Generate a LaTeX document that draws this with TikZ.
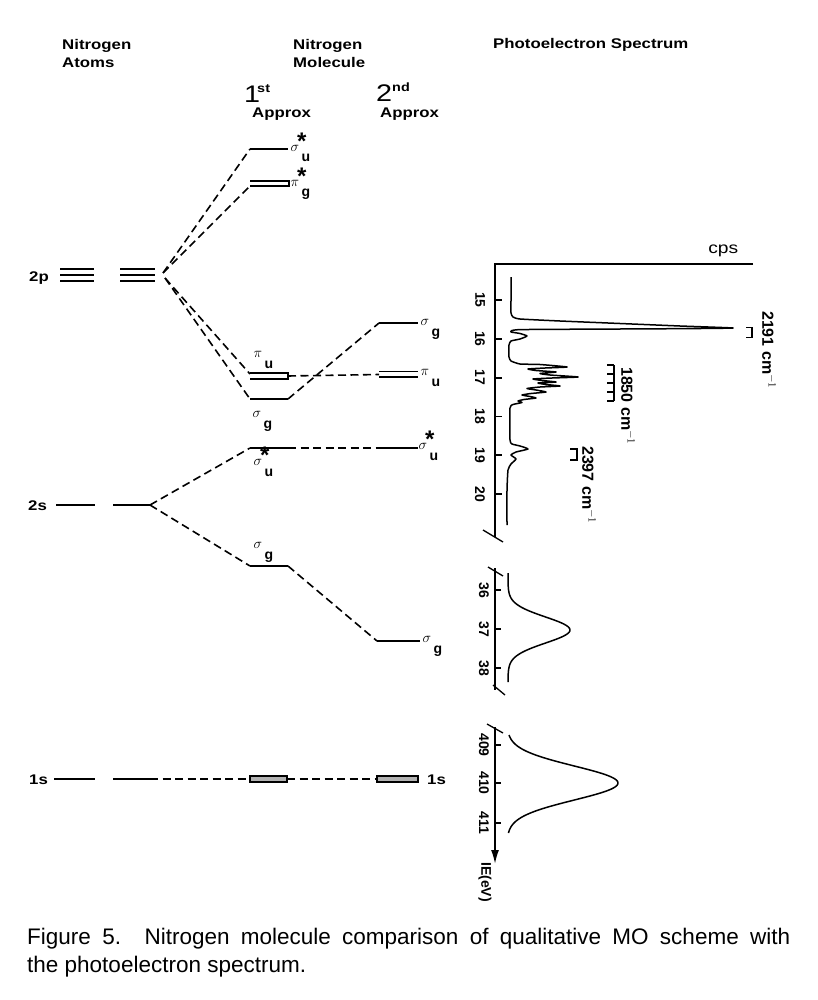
\documentclass[tikz,border=0pt]{standalone}
\usepackage{fontspec}
\setmainfont{Liberation Sans}
\usepackage{graphicx}
\usetikzlibrary{arrows.meta}

\tikzset{
  lev/.style={line width=2pt},
  trip/.style={line width=1.7pt},
  dbl/.style={line width=1.4pt},
  conn/.style={line width=1.6pt, dash pattern=on 8pt off 4.5pt},
  lab/.style={font=\fontsize{14}{14}\selectfont\bfseries, xscale=1.2, inner sep=0pt, anchor=base west},
  grk/.style={font=\fontsize{14}{14}\selectfont, inner sep=0pt},
  subl/.style={font=\fontsize{14}{14}\selectfont\bfseries, inner sep=0pt, anchor=base},
  ticklab/.style={font=\fontsize{14}{14}\selectfont\bfseries, inner sep=0pt, rotate=-90},
  annlab/.style={font=\fontsize{16}{16}\selectfont\bfseries, inner sep=0pt, rotate=-90},
  axisl/.style={line width=1.8pt},
  specline/.style={line width=1.5pt, line join=round},
  brkline/.style={line width=1.3pt},
  captext/.style={font=\fontsize{22.5}{22.5}\selectfont, inner sep=0pt, anchor=base west},
}

\newcommand{\starmark}{\makebox[0pt]{\raisebox{12.5pt}[0pt][0pt]{\fontsize{24}{24}\selectfont\bfseries *}}}
\newcommand{\orbl}[5]{%
  \node[grk] (#1g) at (#2,#3) {$#4$};
  \node[subl] (#1s) at (#2+11,#3+14) {#5};}
\newcommand{\orbls}[5]{%
  \node[grk] (#1g) at (#2,#3) {$#4$};
  \node[subl] (#1s) at (#2+11,#3+14) {\starmark#5};}

\begin{document}
\begin{tikzpicture}[x=1pt,y=-1pt]
\useasboundingbox (0,0) rectangle (818,1000);

% ---------- headings ----------
\node[lab] (hA1) at (62,50) {Nitrogen};
\node[lab] (hA2) at (62,68) {Atoms};
\node[lab] (hM1) at (293,50) {Nitrogen};
\node[lab] (hM2) at (293,68) {Molecule};
\node[lab] (hP) at (493,49) {Photoelectron Spectrum};
\node[lab, font=\fontsize{24}{24}\selectfont] (one) at (244,103) {1};
\node[lab, font=\fontsize{12}{12}\selectfont\bfseries] (onest) at (257,93) {st};
\node[lab] (ap1) at (252,118) {Approx};
\node[lab, font=\fontsize{24}{24}\selectfont] (two) at (376,102) {2};
\node[lab, font=\fontsize{12}{12}\selectfont\bfseries] (twond) at (392,92) {nd};
\node[lab] (ap2) at (380,118) {Approx};

% ---------- atom levels ----------
\node[lab] (l2p) at (29,281) {2p};
\node[lab] (l2s) at (28,510) {2s};
\node[lab] (l1s) at (29,784) {1s};
\foreach \yy in {269,275,281} {
  \draw[trip] (60,\yy) -- (94,\yy);
  \draw[trip] (120,\yy) -- (155,\yy);
}
\coordinate (p2) at (163,273);
\coordinate (p2b) at (165,278);
\draw[lev] (56,505) -- (95,505);
\draw[lev] (113,505) -- (150,505);
\coordinate (s2) at (150,505);
\draw[lev] (54,779) -- (95,779);
\draw[lev] (113,779) -- (150,779);
\coordinate (s1) at (150,779);

% ---------- 1st approximation ----------
\coordinate (suA) at (250,149);
\draw[lev] (suA) -- (288,149);
\coordinate (pgA) at (250,186);
\draw[dbl] (250,181) -- (289,181) -- (289,186) -- (pgA);
\coordinate (puA) at (250,374);
\coordinate (puB) at (288,376);
\draw[dbl] (250,373) -- (288,373) -- (288,379) -- (250,379);
\coordinate (sgA) at (250,399);
\coordinate (sgB) at (288,399);
\draw[lev] (sgA) -- (sgB);
\coordinate (ssA) at (250,448);
\coordinate (ssB) at (288,448);
\draw[lev] (ssA) -- (ssB);
\coordinate (gsA) at (250,566);
\coordinate (gsB) at (288,566);
\draw[lev] (gsA) -- (gsB);
\coordinate (oA) at (250,779);
\coordinate (oB) at (287,779);
\draw[line width=1.7pt, fill=gray!60] (250,776) rectangle (287,782);

% ---------- 2nd approximation ----------
\coordinate (sg2A) at (379,323);
\draw[lev] (sg2A) -- (418,323);
\coordinate (pu2A) at (379,374.5);
\draw[dbl] (379,371.5) -- (418,371.5);
\draw[dbl] (379,377) -- (418,377);
\coordinate (ss2A) at (378,448);
\draw[lev] (ss2A) -- (418,448);
\coordinate (gs2A) at (377,641);
\draw[lev] (gs2A) -- (420,641);
\coordinate (o2A) at (377,779);
\draw[line width=1.7pt, fill=gray!60] (377,776) rectangle (418,782);
\node[lab] (r1s) at (427,784) {1s};

% ---------- correlation lines ----------
\draw[conn] (p2) -- (suA);
\draw[conn] (p2) -- (pgA);
\draw[conn] (p2b) -- (puA);
\draw[conn] (p2b) -- (sgA);
\draw[conn] (sgB) -- (sg2A);
\draw[conn] (puB) -- (pu2A);
\draw[conn] (s2) -- (ssA);
\draw[conn] (s2) -- (gsA);
\draw[conn] (ssB) -- (ss2A);
\draw[conn] (gsB) -- (gs2A);
\draw[conn] (s1) -- (oA);
\draw[conn] (oB) -- (o2A);

% ---------- orbital labels ----------
\orbls{a}{295}{148}{\sigma}{u}
\orbls{b}{295}{183}{\pi}{g}
\orbl{c}{258}{354}{\pi}{u}
\orbl{d}{257}{414}{\sigma}{g}
\orbl{e}{425}{322}{\sigma}{g}
\orbl{f}{425}{372}{\pi}{u}
\orbls{h}{258}{462}{\sigma}{u}
\orbls{i}{423}{446}{\sigma}{u}
\orbl{j}{258}{545}{\sigma}{g}
\orbl{k}{427}{639}{\sigma}{g}

% ---------- spectrum: valence region ----------
\coordinate (a1t) at (495,264);
\coordinate (a1r) at (753,264);
\coordinate (a1b) at (495,537);
\draw[axisl] (a1r) -- (a1t) -- (a1b);
\draw[brkline] (483,530) -- (503,542);
\node[lab, font=\fontsize{16}{16}\selectfont] (cps) at (708,253) {cps};
\foreach \k/\lab in {0/15,1/16,2/17,3/18,4/19,5/20} {
  \draw[axisl] (495,300+38.8*\k) -- (502,300+38.8*\k);
  \node[ticklab] (t\lab) at (480,300+38.8*\k) {\lab};
}
\draw[specline] plot[smooth, tension=0.3] coordinates {
 (511,277) (511,300) (511,313) (513,317) (520,319) (560,321) (620,323.5) (680,326) (733,328)
 (690,328.6) (620,329) (560,329.3) (520,329.6) (512,330.5)
 (511,332) (520,333.5) (527,336) (520,339) (511,341) (509,345) (509,357) (511,361) (520,364)
 (540,364.5) (567,367) (545,368) (528,369) (536,370.5) (556,372) (540,373.5) (550,375) (578,377) (552,378)
 (533,379) (542,380.5) (556,382) (538,383) (546,384.5) (560,386) (540,387) (527,388.5) (536,390)
 (546,392) (531,393.5) (522,395) (530,396.5) (536,398) (524,399.5) (518,401) (522,402.5) (513,404.5)
 (510,408) (510,440) (512,444) (520,446) (528,449)
 (516,452) (511,455) (516,459) (511,464) (508,470) (507,490) (507,525)
};
% vibrational spacings
\draw[brkline] (746,327.5) -- (752,327.5) -- (752,337.5) -- (746,337.5);
\node[annlab] (v1) at (769,350) {2191 cm$^{-1}$};
\draw[brkline] (614,365) -- (614,401);
\foreach \yy in {365,374,383,392,401} { \draw[brkline] (607,\yy) -- (614,\yy); }
\node[annlab] (v2) at (628,406) {1850 cm$^{-1}$};
\draw[brkline] (570,449) -- (577,449) -- (577,460) -- (570,460);
\node[annlab] (v3) at (589,485) {2397 cm$^{-1}$};

% ---------- spectrum: 2s region ----------
\coordinate (a2t) at (495,568);
\coordinate (a2b) at (495,690);
\draw[axisl] (a2t) -- (a2b);
\draw[brkline] (488,567) -- (503,576);
\draw[brkline] (493,685) -- (505,695);
\foreach \yy/\lab in {590/36,629/37,668/38} {
  \draw[axisl] (495,\yy) -- (501,\yy);
  \node[ticklab] (t\lab) at (484,\yy) {\lab};
}
\draw[specline] plot[domain=573:682, samples=80, variable=\t]
  ({508+62*exp(-((\t-630)*(\t-630))/338)}, \t);

% ---------- spectrum: 1s region ----------
\coordinate (a3t) at (495,727);
\coordinate (a3b) at (495,864);
\draw[axisl, -{Latex[length=14pt,width=8pt]}] (a3t) -- (a3b);
\draw[brkline] (487,724) -- (503,733);
\foreach \yy/\lab in {745/409,783/410,823/411} {
  \draw[axisl] (495,\yy) -- (501,\yy);
  \node[ticklab] (t\lab) at (484,\yy) {\lab};
}
\node[ticklab] (ie) at (485,882) {IE(eV)};
\draw[specline] plot[domain=735:833, samples=90, variable=\t]
  ({507+111*exp(-((\t-783)*(\t-783))/578)}, \t);

% ---------- caption ----------
\node[captext] (cap1) at (27,944) {\makebox[763pt][s]{Figure 5. Nitrogen molecule comparison of qualitative MO scheme with}};
\node[captext] (cap2) at (27,972) {the photoelectron spectrum.};
\end{tikzpicture}
\end{document}
